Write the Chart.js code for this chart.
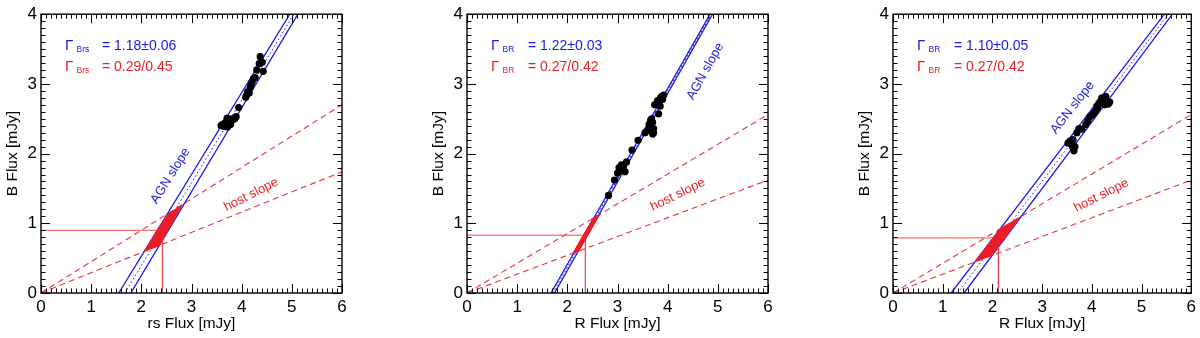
<!DOCTYPE html>
<html><head><meta charset="utf-8">
<script src="https://cdn.jsdelivr.net/npm/chart.js@4.4.1/dist/chart.umd.min.js"></script>
<style>
body{margin:0;background:#fff;width:1200px;height:338px;position:relative;overflow:hidden}
canvas{position:absolute;top:0}
</style></head><body>
<canvas id="c1" width="426" height="338" style="left:0"></canvas>
<canvas id="c2" width="426" height="338" style="left:426px"></canvas>
<canvas id="c3" width="348" height="338" style="left:852px"></canvas>
<script>
const F='"Liberation Sans", Arial, sans-serif';
const BLUE='#1818e0', RED='#ee1c24', RED2='#e8343c', REF='#f04a4a';

const xTicks=[0,1,2,3,4,5,6], yTicks=[0,1,2,3,4];
const xTitles=['rs Flux [mJy]','R Flux [mJy]','R Flux [mJy]'];
const bands=['Brs','BR','BR'];
const agnTxt=['= 1.18±0.06','= 1.22±0.03','= 1.10±0.05'];
const hostTxt=['= 0.29/0.45','= 0.27/0.42','= 0.27/0.42'];

// B flux vs rs / R flux (mJy)
const pts1=[[3.59,2.40],[3.62,2.42],[3.65,2.39],[3.67,2.44],[3.69,2.41],[3.70,2.47],[3.71,2.51],[3.72,2.38],[3.74,2.43],[3.76,2.46],[3.78,2.42],[3.80,2.50],[3.83,2.49],[3.86,2.50],[3.89,2.53],[3.94,2.66],[4.08,2.81],[4.10,2.84],[4.12,2.89],[4.15,2.87],[4.17,2.95],[4.19,2.99],[4.21,3.03],[4.24,3.08],[4.27,3.09],[4.30,3.20],[4.35,3.29],[4.37,3.39],[4.41,3.31],[4.43,3.18]];
const pts2=[[2.82,1.40],[2.94,1.62],[3.00,1.72],[3.03,1.80],[3.06,1.76],[3.08,1.84],[3.10,1.78],[3.12,1.82],[3.15,1.74],[3.18,1.88],[3.29,2.05],[3.41,2.19],[3.55,2.30],[3.60,2.33],[3.63,2.42],[3.65,2.38],[3.66,2.48],[3.68,2.50],[3.70,2.45],[3.72,2.36],[3.72,2.30],[3.70,2.28],[3.82,2.57],[3.74,2.70],[3.78,2.72],[3.80,2.76],[3.83,2.74],[3.86,2.80],[3.88,2.82],[3.92,2.84],[3.85,2.68],[3.90,2.78]];
const pts3=[[3.52,2.15],[3.56,2.18],[3.60,2.12],[3.62,2.08],[3.64,2.04],[3.66,2.10],[3.62,2.20],[3.70,2.30],[3.74,2.36],[3.80,2.35],[3.88,2.42],[3.92,2.47],[3.96,2.53],[4.00,2.55],[4.04,2.58],[4.08,2.62],[4.10,2.68],[4.14,2.72],[4.18,2.76],[4.20,2.80],[4.24,2.78],[4.12,2.66],[4.28,2.82],[4.30,2.74],[4.36,2.74],[4.33,2.71],[4.26,2.70]];

// AGN slope: band edges and best fit (end points)
const agnLo1=[[1.55,0],[4.96,4]], agnHi1=[[1.79,0],[5.12,4]], agnFit1=[[1.67,0],[5.04,4]];
const agnLo2=[[1.675,0],[4.845,4]], agnHi2=[[1.745,0],[4.895,4]], agnFit2=[[1.71,0],[4.87,4]];
const agnLo3=[[1.17,0],[5.46,4]], agnHi3=[[1.43,0],[5.62,4]], agnFit3=[[1.30,0],[5.54,4]];

// host slope lines from the origin
const hostLo1=[[0,0],[6,1.74]], hostHi1=[[0,0],[6,2.70]];
const hostLo2=[[0,0],[6,1.62]], hostHi2=[[0,0],[6,2.56]];
const hostLo3=[[0,0],[6,1.62]], hostHi3=[[0,0],[6,2.56]];

// host region (AGN band inside host wedge)
const reg1=[[2.06,0.60],[2.36,0.68],[2.82,1.27],[2.52,1.13],[2.06,0.60]];
const reg2=[[2.11,0.57],[2.23,0.60],[2.65,1.13],[2.51,1.07],[2.11,0.57]];
const reg3=[[1.65,0.45],[1.99,0.54],[2.56,1.09],[2.15,0.92],[1.65,0.45]];

// host flux read-off
const host1=[2.42,0.90], host2=[2.36,0.83], host3=[2.12,0.79];

const panels=[
 {id:'c1',pts:pts1,lo:agnLo1,hi:agnHi1,fit:agnFit1,hl:hostLo1,hh:hostHi1,reg:reg1,h:host1,
  agnLab:{x:2.58,y:1.68,r:-58},hostLab:{x:4.19,y:1.41,r:-27}},
 {id:'c2',pts:pts2,lo:agnLo2,hi:agnHi2,fit:agnFit2,hl:hostLo2,hh:hostHi2,reg:reg2,h:host2,
  agnLab:{x:4.75,y:3.18,r:-61},hostLab:{x:4.20,y:1.41,r:-26}},
 {id:'c3',pts:pts3,lo:agnLo3,hi:agnHi3,fit:agnFit3,hl:hostLo3,hh:hostHi3,reg:reg3,h:host3,
  agnLab:{x:3.61,y:2.66,r:-52},hostLab:{x:4.19,y:1.40,r:-27}}
];

const xy=a=>a.map(p=>({x:p[0],y:p[1]}));
const seg=(d,c,w,dash,order)=>({data:xy(d),showLine:true,borderColor:c,borderWidth:w,borderDash:dash||[],pointRadius:0,fill:false,order});

const frame={id:'frame',afterDatasetsDraw(ch){
 const {ctx,chartArea:a,scales:{x,y}}=ch;
 ctx.save();ctx.strokeStyle='#000';ctx.lineWidth=1.4;
 ctx.strokeRect(a.left,a.top,a.right-a.left,a.bottom-a.top);
 ctx.lineWidth=1;ctx.beginPath();
 for(let i=0;i<=Math.round((x.max-x.min)*10);i++){
  const px=Math.round(x.getPixelForValue(x.min+i/10))+0.5,L=i%10?4.5:9;
  ctx.moveTo(px,a.bottom);ctx.lineTo(px,a.bottom-L);ctx.moveTo(px,a.top);ctx.lineTo(px,a.top+L);}
 for(let i=0;i<=Math.round((y.max-y.min)*10);i++){
  const py=Math.round(y.getPixelForValue(y.min+i/10))+0.5,L=i%10?4.5:9;
  ctx.moveTo(a.left,py);ctx.lineTo(a.left+L,py);ctx.moveTo(a.right,py);ctx.lineTo(a.right-L,py);}
 ctx.stroke();ctx.restore();}};

const notes={id:'notes',afterDatasetsDraw(ch,args,o){
 const {ctx,chartArea:a,scales:{x,y}}=ch;
 ctx.save();ctx.textAlign='left';ctx.textBaseline='alphabetic';
 [[BLUE,o.agn],[RED,o.host]].forEach(([c,t],i)=>{
  const yb=a.top+35.5+i*21.5;
  ctx.fillStyle=c;
  ctx.font='15px '+F;ctx.fillText('Γ',a.left+24,yb);
  ctx.font='8.5px '+F;ctx.fillText(o.band,a.left+35.5,yb+2);
  ctx.font='14px '+F;ctx.fillText(t,a.left+61,yb);
 });
 [[o.agnLab,'AGN slope',BLUE],[o.hostLab,'host slope',RED]].forEach(([l,t,c])=>{
  ctx.save();ctx.translate(x.getPixelForValue(l.x),y.getPixelForValue(l.y));
  ctx.rotate(l.r*Math.PI/180);ctx.fillStyle=c;ctx.font='13px '+F;
  ctx.textAlign='center';ctx.textBaseline='middle';ctx.fillText(t,0,0);ctx.restore();
 });
 ctx.restore();}};

panels.forEach((p,k)=>{
 const cv=document.getElementById(p.id);
 new Chart(cv,{type:'scatter',
  data:{datasets:[
   {data:xy(p.pts),pointRadius:3.6,backgroundColor:'#000',borderWidth:0,order:0},
   {data:xy(p.reg),showLine:true,fill:'shape',backgroundColor:RED,borderColor:RED,borderWidth:1,pointRadius:0,order:1},
   seg([[0,p.h[1]],p.h,[p.h[0],0]],REF,1,null,2),
   seg(p.lo,BLUE,1.3,null,3),seg(p.hi,BLUE,1.3,null,3),seg(p.fit,BLUE,1,[1.5,2.5],3),
   seg(p.hl,RED2,1.1,[6,4],4),seg(p.hh,RED2,1.1,[6,4],4),
   {data:[{x:0,y:0}],pointRadius:2.5,backgroundColor:RED,borderWidth:0,order:4}
  ]},
  options:{responsive:false,animation:false,events:[],
   layout:{padding:{left:0,top:7,right:cv.width-342,bottom:0}},
   plugins:{legend:{display:false},tooltip:{enabled:false},
    notes:{band:bands[k],agn:agnTxt[k],host:hostTxt[k],agnLab:p.agnLab,hostLab:p.hostLab}},
   scales:{
    x:{type:'linear',min:xTicks[0],max:xTicks[xTicks.length-1],afterFit:s=>{s.height=45;},
     grid:{display:false,drawTicks:false},border:{display:false},
     afterBuildTicks:s=>{s.ticks=xTicks.map(v=>({value:v}));},
     ticks:{padding:4,color:'#000',maxRotation:0,autoSkip:false,font:{family:F,size:17}},
     title:{display:true,text:xTitles[k],color:'#000',font:{family:F,size:15.5},padding:{top:0,bottom:4.5}}},
    y:{type:'linear',min:yTicks[0],max:yTicks[yTicks.length-1],afterFit:s=>{s.width=41;},
     grid:{display:false,drawTicks:false},border:{display:false},
     afterBuildTicks:s=>{s.ticks=yTicks.map(v=>({value:v}));},
     ticks:{padding:4,color:'#000',autoSkip:false,font:{family:F,size:17}},
     title:{display:true,text:'B Flux [mJy]',color:'#000',font:{family:F,size:15.5},padding:{top:3.5,bottom:0}}}
   }},
  plugins:[frame,notes]});
});
</script>
</body></html>
